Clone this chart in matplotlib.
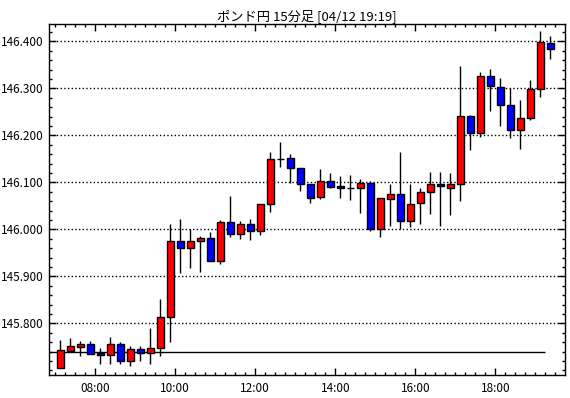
import numpy as np
import matplotlib
matplotlib.use('Agg')
import matplotlib.pyplot as plt
from matplotlib.ticker import MultipleLocator, FixedLocator, FuncFormatter

plt.rcParams['font.family'] = ['Noto Sans CJK JP', 'DejaVu Sans']

# 15分足 (ポンド円) 07:00 - 19:15
times = ['07:00', '07:15', '07:30', '07:45', '08:00', '08:15', '08:30', '08:45',
         '09:00', '09:15', '09:30', '09:45', '10:00', '10:15', '10:30', '10:45',
         '11:00', '11:15', '11:30', '11:45', '12:00', '12:15', '12:30', '12:45',
         '13:00', '13:15', '13:30', '13:45', '14:00', '14:15', '14:30', '14:45',
         '15:00', '15:15', '15:30', '15:45', '16:00', '16:15', '16:30', '16:45',
         '17:00', '17:15', '17:30', '17:45', '18:00', '18:15', '18:30', '18:45',
         '19:00', '19:15']
opens = [145.704, 145.742, 145.750, 145.757, 145.737, 145.732, 145.757, 145.719,
         145.745, 145.736, 145.747, 145.813, 145.975, 145.960, 145.975, 145.981,
         145.932, 146.015, 145.991, 146.011, 145.996, 146.054, 146.149, 146.151,
         146.130, 146.096, 146.068, 146.102, 146.092, 146.087, 146.087, 146.099,
         146.000, 146.065, 146.075, 146.017, 146.055, 146.079, 146.096, 146.087,
         146.096, 146.241, 146.204, 146.326, 146.302, 146.264, 146.211, 146.236,
         146.298, 146.396]
highs = [145.765, 145.769, 145.762, 145.762, 145.747, 145.771, 145.760, 145.751,
         145.751, 145.789, 145.852, 146.011, 146.022, 146.001, 145.986, 145.994,
         146.020, 146.071, 146.018, 146.023, 146.054, 146.165, 146.186, 146.160,
         146.130, 146.096, 146.128, 146.120, 146.113, 146.116, 146.107, 146.103,
         146.066, 146.096, 146.165, 146.096, 146.088, 146.122, 146.122, 146.120,
         146.348, 146.243, 146.335, 146.341, 146.322, 146.300, 146.275, 146.318,
         146.422, 146.411]
lows = [145.704, 145.738, 145.731, 145.735, 145.714, 145.714, 145.714, 145.709,
        145.719, 145.714, 145.731, 145.760, 145.908, 145.917, 145.910, 145.932,
        145.927, 145.984, 145.979, 145.978, 145.989, 146.037, 146.133, 146.098,
        146.082, 146.055, 146.065, 146.089, 146.067, 146.062, 146.034, 145.997,
        145.984, 146.008, 146.000, 146.006, 146.011, 146.032, 146.008, 146.031,
        146.061, 146.169, 146.197, 146.252, 146.220, 146.195, 146.172, 146.233,
        146.282, 146.363]
closes = [145.743, 145.751, 145.757, 145.735, 145.732, 145.757, 145.719, 145.745,
          145.736, 145.747, 145.813, 145.975, 145.960, 145.975, 145.981, 145.932,
          146.015, 145.991, 146.011, 145.996, 146.054, 146.149, 146.150, 146.130,
          146.096, 146.067, 146.102, 146.091, 146.087, 146.087, 146.099, 146.000,
          146.066, 146.075, 146.017, 146.053, 146.079, 146.096, 146.092, 146.096,
          146.241, 146.204, 146.326, 146.304, 146.264, 146.211, 146.236, 146.298,
          146.398, 146.383]
price_ticks = [145.8, 145.9, 146.0, 146.1, 146.2, 146.3, 146.4]
base_line = 145.738
title = 'ポンド円 15分足 [04/12 19:19]'

# 時刻 -> 時間(数値)、ローソクは足の中央に置く
t = np.array([int(s[:2]) + int(s[3:]) / 60 for s in times])
xc = t + 0.125
o = np.array(opens)
c = np.array(closes)
colors = np.where(c >= o, '#FF0000', '#0000FF')

fig = plt.figure(figsize=(5.7, 3.98), dpi=100)
ax = fig.add_axes([49/570, 1-375/398, 516/570, 351/398])

ax.vlines(xc, lows, highs, color='black', linewidth=1, zorder=2)
ax.bar(xc, np.abs(c - o), bottom=np.minimum(o, c), width=0.16,
       color=colors, edgecolor='black', linewidth=1, zorder=3)
ax.hlines(base_line, 6.84, 19.25, color='black', linewidth=1, zorder=1)

ax.set_xlim(6.8425, 19.7425)
ax.set_ylim(145.690, 146.437)

ax.xaxis.set_major_locator(MultipleLocator(2))
ax.xaxis.set_minor_locator(MultipleLocator(0.25))
ax.xaxis.set_major_formatter(FuncFormatter(lambda v, p: '%02d:00' % int(round(v))))
ax.yaxis.set_major_locator(FixedLocator(price_ticks))
ax.yaxis.set_minor_locator(MultipleLocator(0.02))
ax.yaxis.set_major_formatter(FuncFormatter(lambda v, p: '%.3f' % v))

ax.tick_params(which='both', direction='in', top=True, right=True,
               labelsize=8.5, colors='black')
ax.tick_params(which='major', length=5, width=1)
ax.tick_params(which='minor', length=2.5, width=1)
ax.tick_params(axis='x', pad=5)
ax.tick_params(axis='y', pad=4)

ax.yaxis.grid(True, which='major', linestyle=':', color='black', linewidth=1)
ax.set_axisbelow(True)
for s in ax.spines.values():
    s.set_linewidth(1)

ax.set_title(title, fontsize=9.5, pad=3)

fig.savefig('out.png', dpi=100)
